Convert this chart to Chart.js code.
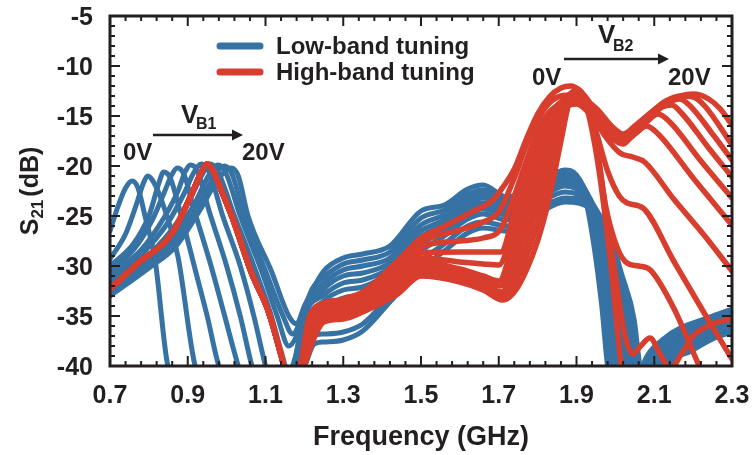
<!DOCTYPE html>
<html>
<head>
<meta charset="utf-8">
<script src="https://cdn.jsdelivr.net/npm/chart.js@4.4.0/dist/chart.umd.min.js"></script>
<style>
  html, body { margin: 0; padding: 0; background: #fff; }
</style>
</head>
<body>
<canvas id="canvasS21" width="752" height="455"></canvas>
<script>
// axis ticks
const freqTicks = [0.7, 0.9, 1.1, 1.3, 1.5, 1.7, 1.9, 2.1, 2.3];
const s21Ticks = [-40, -35, -30, -25, -20, -15, -10, -5];

// low-band tuning (blue), [GHz, dB]
const low1 = [[0.70,-26.5],[0.72,-24.1],[0.74,-22.2],[0.757,-21.5],[0.772,-22.2],[0.79,-25.0],[0.816,-29.4],[0.849,-40.0],[1.00,-48],[1.20,-40.0],[1.225,-37.8],[1.25,-37.6],[1.30,-37.4],[1.35,-36.5],[1.42,-33.6],[1.50,-30.3],[1.56,-28.5],[1.62,-26.7],[1.66,-26.2],[1.72,-26.5],[1.80,-24.8],[1.87,-23.6],[1.945,-24.5],[1.983,-26.6],[2.016,-30.8],[2.048,-35.3],[2.063,-40.0],[2.103,-47],[2.142,-40.0],[2.19,-38.6],[2.25,-37.3],[2.30,-36.6]];
const low2 = [[0.70,-29.3],[0.74,-26.8],[0.77,-23.6],[0.785,-21.8],[0.797,-21.0],[0.812,-21.6],[0.835,-23.7],[0.875,-29.1],[0.919,-40.0],[1.05,-48],[1.198,-40.0],[1.222,-37.0],[1.25,-36.8],[1.30,-36.6],[1.35,-35.8],[1.42,-33.0],[1.50,-29.5],[1.56,-27.8],[1.62,-26.0],[1.66,-25.6],[1.72,-26.0],[1.80,-24.4],[1.87,-23.2],[1.94,-24.0],[1.976,-26.2],[2.008,-30.4],[2.04,-35.0],[2.055,-40.0],[2.095,-47],[2.134,-40.0],[2.18,-38.6],[2.25,-37.1],[2.30,-36.3]];
const low3 = [[0.70,-30.0],[0.76,-27.8],[0.80,-25.0],[0.825,-21.8],[0.838,-20.6],[0.855,-21.2],[0.88,-24.5],[0.92,-30.5],[0.95,-35.0],[0.98,-40.0],[1.08,-48],[1.19,-40.0],[1.215,-36.6],[1.25,-35.0],[1.30,-34.0],[1.35,-33.6],[1.42,-31.6],[1.50,-28.5],[1.56,-27.0],[1.62,-25.3],[1.66,-24.8],[1.72,-25.4],[1.80,-23.8],[1.87,-22.6],[1.935,-23.6],[1.969,-25.8],[2.00,-30.1],[2.03,-34.6],[2.046,-40.0],[2.086,-47],[2.126,-40.0],[2.17,-38.5],[2.25,-36.9],[2.30,-36.0]];
const low4 = [[0.70,-30.5],[0.76,-28.4],[0.81,-25.3],[0.84,-22.6],[0.86,-20.8],[0.873,-20.2],[0.89,-20.8],[0.915,-24.2],[0.96,-30.0],[0.995,-35.0],[1.03,-40.0],[1.10,-48],[1.185,-40.0],[1.21,-36.0],[1.25,-34.2],[1.30,-33.2],[1.35,-32.8],[1.42,-31.0],[1.50,-27.8],[1.56,-26.5],[1.62,-24.8],[1.66,-24.3],[1.72,-24.9],[1.80,-23.4],[1.87,-22.0],[1.93,-23.2],[1.962,-25.4],[1.992,-29.8],[2.02,-34.4],[2.036,-40.0],[2.077,-47],[2.118,-40.0],[2.17,-38.2],[2.25,-36.6],[2.30,-35.8]];
const low5 = [[0.70,-31.0],[0.78,-28.4],[0.84,-25.1],[0.875,-22.5],[0.893,-20.6],[0.907,-19.9],[0.925,-20.5],[0.955,-24.5],[1.00,-30.0],[1.035,-35.0],[1.065,-40.0],[1.12,-47],[1.18,-40.0],[1.205,-35.6],[1.25,-33.5],[1.30,-32.4],[1.35,-32.1],[1.42,-30.6],[1.50,-27.4],[1.56,-26.2],[1.62,-24.5],[1.66,-24.0],[1.72,-24.6],[1.80,-23.2],[1.87,-21.8],[1.925,-22.8],[1.955,-25.0],[1.984,-29.5],[2.01,-34.2],[2.026,-40.0],[2.068,-47],[2.11,-40.0],[2.16,-38.1],[2.25,-36.3],[2.30,-35.5]];
const low6 = [[0.70,-31.5],[0.78,-28.9],[0.85,-25.6],[0.89,-22.8],[0.915,-20.7],[0.935,-19.8],[0.953,-20.4],[0.99,-25.0],[1.035,-30.0],[1.07,-35.0],[1.10,-40.0],[1.135,-45],[1.172,-40.0],[1.20,-35.0],[1.25,-32.9],[1.30,-31.7],[1.35,-31.4],[1.42,-30.2],[1.50,-27.1],[1.56,-25.8],[1.62,-24.2],[1.66,-23.7],[1.72,-24.4],[1.80,-23.0],[1.87,-21.7],[1.92,-22.4],[1.949,-24.6],[1.976,-29.2],[2.00,-34.0],[2.016,-40.0],[2.059,-47],[2.102,-40.0],[2.16,-37.8],[2.25,-36.0],[2.30,-35.3]];
const low7 = [[0.70,-32.0],[0.80,-28.9],[0.87,-25.8],[0.91,-23.0],[0.938,-20.8],[0.958,-19.8],[0.978,-20.6],[1.02,-25.0],[1.07,-30.0],[1.115,-35.0],[1.14,-38.5],[1.158,-40.5],[1.178,-39.0],[1.20,-35.0],[1.25,-32.3],[1.30,-31.0],[1.35,-30.7],[1.42,-29.7],[1.50,-26.5],[1.56,-25.4],[1.62,-23.8],[1.66,-23.2],[1.72,-24.1],[1.80,-22.8],[1.87,-21.4],[1.915,-22.0],[1.942,-24.2],[1.968,-28.9],[1.991,-34.0],[2.007,-40.0],[2.05,-47],[2.094,-40.0],[2.15,-37.8],[2.25,-35.8],[2.30,-35.0]];
const low8 = [[0.70,-32.3],[0.80,-29.4],[0.87,-26.6],[0.92,-23.6],[0.95,-21.2],[0.978,-19.9],[0.998,-20.7],[1.035,-25.0],[1.09,-30.5],[1.13,-35.0],[1.16,-38.0],[1.18,-37.0],[1.21,-33.5],[1.25,-31.7],[1.30,-30.4],[1.35,-30.0],[1.42,-29.2],[1.50,-25.9],[1.56,-24.9],[1.62,-23.3],[1.66,-22.8],[1.72,-23.8],[1.80,-22.5],[1.87,-21.1],[1.91,-21.6],[1.935,-23.8],[1.96,-28.6],[1.982,-34.0],[1.998,-40.0],[2.042,-47],[2.086,-40.0],[2.14,-37.7],[2.25,-35.5],[2.30,-34.8]];
const low9 = [[0.70,-32.6],[0.80,-29.8],[0.87,-27.3],[0.93,-23.8],[0.965,-21.2],[0.995,-20.0],[1.015,-20.9],[1.045,-25.0],[1.10,-30.5],[1.145,-35.0],[1.17,-36.8],[1.19,-35.5],[1.22,-32.3],[1.25,-31.1],[1.30,-29.8],[1.35,-29.4],[1.42,-28.6],[1.50,-25.2],[1.56,-24.4],[1.62,-22.8],[1.66,-22.4],[1.72,-23.5],[1.80,-22.2],[1.87,-20.8],[1.905,-21.2],[1.928,-23.4],[1.952,-28.3],[1.973,-34.0],[1.989,-40.0],[2.033,-47],[2.078,-40.0],[2.13,-37.6],[2.25,-35.3],[2.30,-34.6]];
const low10 = [[0.70,-33.0],[0.80,-30.2],[0.87,-28.0],[0.93,-24.5],[0.975,-21.5],[1.012,-20.2],[1.03,-21.0],[1.055,-25.0],[1.115,-30.5],[1.16,-35.0],[1.18,-35.8],[1.20,-34.0],[1.25,-30.5],[1.30,-29.2],[1.35,-28.8],[1.42,-28.0],[1.50,-24.5],[1.56,-23.9],[1.62,-22.3],[1.66,-21.9],[1.72,-23.1],[1.80,-21.9],[1.87,-20.4],[1.90,-20.9],[1.92,-22.8],[1.945,-28.0],[1.965,-34.0],[1.98,-40.0],[2.025,-47],[2.07,-40.0],[2.12,-37.4],[2.25,-35.0],[2.30,-34.3]];

// high-band tuning (red): shared low passband, then each bias state
const highCommon = [[0.70,-32.3],[0.77,-29.8],[0.86,-26.7],[0.91,-22.8],[0.935,-20.6],[0.95,-19.8],[0.965,-20.5],[0.99,-22.8],[1.014,-25.1],[1.065,-30.8],[1.107,-34.5],[1.142,-39.2],[1.168,-43]];
const high1 = [[1.20,-40.0],[1.225,-37.2],[1.25,-35.6],[1.30,-35.3],[1.35,-34.6],[1.44,-32.8],[1.50,-31.0],[1.60,-31.6],[1.66,-32.4],[1.71,-33.4],[1.74,-32.6],[1.77,-30.5],[1.80,-27.5],[1.83,-23.2],[1.86,-17.5],[1.88,-13.8],[1.90,-12.3],[1.915,-12.8],[1.935,-15.5],[1.96,-21.0],[1.99,-30.5],[2.015,-40.0],[2.04,-46]];
const high2 = [[1.20,-40.0],[1.222,-37.0],[1.25,-35.3],[1.30,-35.0],[1.35,-34.4],[1.44,-32.5],[1.50,-30.8],[1.60,-31.4],[1.66,-32.2],[1.71,-33.2],[1.74,-31.8],[1.77,-29.2],[1.80,-25.8],[1.83,-21.5],[1.86,-16.2],[1.88,-13.2],[1.90,-12.4],[1.92,-13.3],[1.945,-16.5],[1.97,-23.0],[2.00,-31.0],[2.025,-37.0],[2.045,-38.8],[2.065,-38.0],[2.089,-37.2],[2.115,-38.8],[2.141,-40.3],[2.17,-38.8],[2.20,-37.0],[2.25,-35.8],[2.30,-35.3]];
const high3 = [[1.20,-40.0],[1.22,-37.0],[1.25,-35.1],[1.30,-34.8],[1.35,-34.2],[1.44,-32.2],[1.50,-30.5],[1.60,-31.2],[1.66,-32.0],[1.71,-33.0],[1.74,-30.8],[1.77,-27.8],[1.80,-24.0],[1.83,-19.8],[1.86,-15.2],[1.88,-12.9],[1.90,-12.6],[1.925,-13.8],[1.95,-17.5],[1.975,-24.0],[2.005,-28.2],[2.03,-29.7],[2.06,-30.0],[2.09,-30.4],[2.15,-34.2],[2.21,-39.5],[2.25,-43]];
const high4 = [[1.20,-40.0],[1.22,-36.8],[1.25,-34.9],[1.30,-34.6],[1.35,-34.0],[1.44,-31.9],[1.50,-30.2],[1.60,-31.0],[1.66,-31.8],[1.708,-32.6],[1.74,-29.6],[1.77,-26.2],[1.80,-22.2],[1.83,-18.2],[1.86,-14.5],[1.88,-13.0],[1.90,-12.9],[1.925,-13.8],[1.95,-16.5],[1.98,-20.5],[2.01,-23.0],[2.03,-23.7],[2.071,-24.2],[2.15,-29.5],[2.23,-34.8],[2.30,-39.3]];
const high5 = [[1.198,-40.0],[1.22,-36.5],[1.25,-34.7],[1.30,-34.4],[1.35,-33.8],[1.44,-31.6],[1.50,-29.9],[1.60,-30.6],[1.66,-31.4],[1.705,-32.0],[1.74,-28.4],[1.77,-24.6],[1.80,-20.6],[1.83,-17.0],[1.86,-14.2],[1.88,-13.3],[1.90,-13.2],[1.94,-14.8],[1.97,-16.8],[2.012,-18.7],[2.045,-19.1],[2.075,-19.6],[2.15,-23.3],[2.23,-27.0],[2.30,-30.5]];
const high6 = [[1.196,-40.0],[1.22,-36.3],[1.25,-34.5],[1.30,-34.2],[1.35,-33.6],[1.44,-31.3],[1.50,-29.6],[1.60,-30.3],[1.66,-31.0],[1.70,-31.5],[1.74,-27.2],[1.77,-23.2],[1.80,-19.3],[1.83,-16.2],[1.86,-14.3],[1.88,-13.7],[1.90,-13.5],[1.95,-15.0],[1.99,-16.8],[2.02,-17.4],[2.05,-16.8],[2.08,-16.0],[2.11,-16.8],[2.20,-21.2],[2.30,-25.9]];
const high7 = [[1.195,-40.0],[1.218,-36.0],[1.25,-34.3],[1.30,-34.0],[1.35,-33.4],[1.44,-31.0],[1.50,-29.2],[1.60,-29.6],[1.66,-29.8],[1.70,-29.9],[1.74,-25.8],[1.77,-21.8],[1.80,-18.2],[1.83,-15.6],[1.86,-14.2],[1.88,-13.9],[1.90,-13.8],[1.95,-15.2],[1.99,-17.0],[2.02,-17.6],[2.05,-16.8],[2.08,-15.6],[2.11,-14.8],[2.14,-15.6],[2.22,-19.5],[2.30,-23.2]];
const high8 = [[1.194,-40.0],[1.216,-35.8],[1.25,-34.1],[1.30,-33.8],[1.35,-33.2],[1.44,-30.6],[1.50,-28.7],[1.60,-28.6],[1.66,-28.6],[1.705,-28.6],[1.74,-24.6],[1.77,-20.6],[1.80,-17.2],[1.83,-14.9],[1.86,-13.6],[1.89,-13.2],[1.95,-14.8],[1.99,-16.3],[2.02,-17.0],[2.05,-16.2],[2.09,-15.0],[2.12,-14.1],[2.145,-13.9],[2.17,-14.7],[2.24,-18.2],[2.30,-21.1]];
const high9 = [[1.193,-40.0],[1.215,-35.5],[1.25,-33.9],[1.30,-33.6],[1.35,-33.0],[1.44,-30.2],[1.50,-28.1],[1.60,-27.5],[1.66,-27.2],[1.705,-26.3],[1.74,-23.0],[1.77,-19.6],[1.80,-16.5],[1.83,-14.6],[1.86,-13.8],[1.89,-13.6],[1.95,-15.4],[1.99,-17.2],[2.02,-17.8],[2.05,-16.6],[2.09,-15.1],[2.13,-13.8],[2.165,-13.3],[2.19,-13.9],[2.25,-16.8],[2.30,-19.4]];
const high10 = [[1.192,-40.0],[1.214,-35.3],[1.25,-33.7],[1.30,-33.4],[1.35,-32.8],[1.44,-29.8],[1.50,-27.6],[1.60,-26.4],[1.66,-25.6],[1.70,-24.6],[1.74,-21.2],[1.77,-18.0],[1.80,-15.4],[1.83,-13.7],[1.86,-13.0],[1.89,-12.9],[1.95,-14.2],[1.99,-16.0],[2.02,-16.8],[2.05,-16.0],[2.09,-14.7],[2.13,-13.5],[2.17,-13.0],[2.20,-13.1],[2.23,-14.0],[2.30,-17.9]];
const high11 = [[1.19,-40.0],[1.213,-35.0],[1.24,-34.2],[1.30,-33.3],[1.35,-32.6],[1.44,-29.5],[1.50,-27.2],[1.557,-26.1],[1.626,-24.7],[1.685,-23.4],[1.711,-22.1],[1.74,-20.3],[1.77,-17.4],[1.80,-14.8],[1.83,-13.1],[1.86,-12.2],[1.885,-12.0],[1.91,-12.5],[1.95,-14.5],[1.99,-16.2],[2.02,-17.0],[2.05,-16.2],[2.09,-15.0],[2.13,-13.7],[2.16,-13.1],[2.20,-12.8],[2.24,-13.3],[2.27,-14.3],[2.30,-15.9]];

const corAzul = '#3672a3';
const corVermelho = '#d83e2d';
const corTexto = '#231f20';
const fonte = "'Liberation Sans', Arial, Helvetica, sans-serif";

function serie(pontos, cor, ordem, largura) {
    return {
        data: pontos.map(p => ({ x: p[0], y: p[1] })),
        borderColor: cor,
        backgroundColor: cor,
        borderWidth: largura,
        pointRadius: 0,
        fill: false,
        cubicInterpolationMode: 'monotone',
        borderCapStyle: 'round',
        borderJoinStyle: 'round',
        order: ordem
    };
}

let datasets = [];
[low1, low2, low3, low4, low5, low6, low7, low8, low9, low10].forEach(c => datasets.push(serie(c, corAzul, 2, 5)));
[high1, high2, high3, high4, high5, high6, high7, high8, high9, high10, high11].forEach(c => datasets.push(serie(highCommon.concat(c), corVermelho, 1, 5.5)));

// frame, inner ticks, tick labels, legend and annotations
const decoracao = {
    id: 'decoracao',
    afterDraw(chart) {
        const ctx = chart.ctx;
        const a = chart.chartArea;
        const sx = chart.scales.x, sy = chart.scales.y;
        ctx.save();
        ctx.strokeStyle = corTexto;
        ctx.lineCap = 'butt';
        ctx.lineWidth = 2;
        ctx.beginPath();
        for (let k = 0; k <= 40; k++) {
            const px = sx.getPixelForValue(0.7 + k * 0.04);
            const len = k % 5 === 0 ? 10 : 5;
            ctx.moveTo(px, a.bottom); ctx.lineTo(px, a.bottom - len);
            ctx.moveTo(px, a.top); ctx.lineTo(px, a.top + len);
        }
        for (let k = 0; k <= 35; k++) {
            const py = sy.getPixelForValue(-40 + k);
            const len = k % 5 === 0 ? 10 : 5;
            ctx.moveTo(a.left, py); ctx.lineTo(a.left + len, py);
            ctx.moveTo(a.right, py); ctx.lineTo(a.right - len, py);
        }
        ctx.stroke();
        ctx.lineWidth = 3;
        ctx.strokeRect(a.left, a.top, a.right - a.left, a.bottom - a.top);

        // tick labels
        ctx.fillStyle = corTexto;
        ctx.font = 'bold 25px ' + fonte;
        ctx.textBaseline = 'alphabetic';
        ctx.textAlign = 'center';
        freqTicks.forEach(v => ctx.fillText(v.toFixed(1), sx.getPixelForValue(v), 403));
        ctx.textAlign = 'right';
        s21Ticks.forEach(v => ctx.fillText(String(v), 93, sy.getPixelForValue(v) + 9));

        // legend
        ctx.lineCap = 'round';
        ctx.lineWidth = 7;
        ctx.strokeStyle = corAzul;
        ctx.beginPath(); ctx.moveTo(220, 46); ctx.lineTo(260, 46); ctx.stroke();
        ctx.strokeStyle = corVermelho;
        ctx.beginPath(); ctx.moveTo(220, 72); ctx.lineTo(260, 72); ctx.stroke();
        ctx.textAlign = 'left';
        ctx.font = 'bold 24px ' + fonte;
        ctx.fillText('Low-band tuning', 276, 54);
        ctx.fillText('High-band tuning', 276, 80);

        // bias annotations
        ctx.fillText('0V', 123, 160);
        ctx.fillText('20V', 242, 160);
        ctx.fillText('0V', 532, 85);
        ctx.fillText('20V', 668, 85);
        ctx.font = 'bold 26px ' + fonte;
        ctx.fillText('V', 181, 123);
        ctx.fillText('V', 598, 43);
        ctx.font = 'bold 16px ' + fonte;
        ctx.fillText('B1', 196, 129);
        ctx.fillText('B2', 613, 51);

        function seta(x0, x1, y) {
            ctx.strokeStyle = corTexto;
            ctx.lineWidth = 2.5;
            ctx.lineCap = 'butt';
            ctx.beginPath(); ctx.moveTo(x0, y); ctx.lineTo(x1 - 8, y); ctx.stroke();
            ctx.beginPath();
            ctx.moveTo(x1, y); ctx.lineTo(x1 - 11, y - 5.5); ctx.lineTo(x1 - 11, y + 5.5);
            ctx.closePath(); ctx.fill();
        }
        seta(153, 243, 135);
        seta(564, 669, 59);

        // axis titles
        ctx.font = 'bold 27px ' + fonte;
        ctx.textAlign = 'center';
        ctx.fillText('Frequency (GHz)', (a.left + a.right) / 2, 445);

        ctx.textAlign = 'left';
        const fMain = 'bold 25px ' + fonte, fSub = 'bold 17px ' + fonte;
        ctx.font = fMain; const wS = ctx.measureText('S').width;
        const wDb = ctx.measureText('(dB)').width;
        ctx.font = fSub; const w21 = ctx.measureText('21').width;
        const total = wS + w21 + 3 + wDb;
        ctx.translate(38, (a.top + a.bottom) / 2 + total / 2);
        ctx.rotate(-Math.PI / 2);
        ctx.font = fMain; ctx.fillText('S', 0, 0);
        ctx.font = fSub; ctx.fillText('21', wS, 5);
        ctx.font = fMain; ctx.fillText('(dB)', wS + w21 + 3, 0);
        ctx.restore();
    }
};

let canvasS21 = document.getElementById('canvasS21').getContext('2d');
let grafico = new Chart(canvasS21, {
    type: 'line',
    data: { datasets: datasets },
    options: {
        responsive: false,
        animation: false,
        layout: { padding: { top: 16, right: 20, left: 0, bottom: 0 } },
        plugins: { legend: { display: false }, tooltip: { enabled: false } },
        scales: {
            x: {
                type: 'linear',
                min: 0.7,
                max: 2.3,
                afterFit: s => { s.height = 89; },
                grid: { display: false, drawTicks: false },
                border: { display: false },
                ticks: { display: false }
            },
            y: {
                type: 'linear',
                min: -40,
                max: -5,
                afterFit: s => { s.width = 110; },
                grid: { display: false, drawTicks: false },
                border: { display: false },
                ticks: { display: false }
            }
        }
    },
    plugins: [decoracao]
});
</script>
</body>
</html>
